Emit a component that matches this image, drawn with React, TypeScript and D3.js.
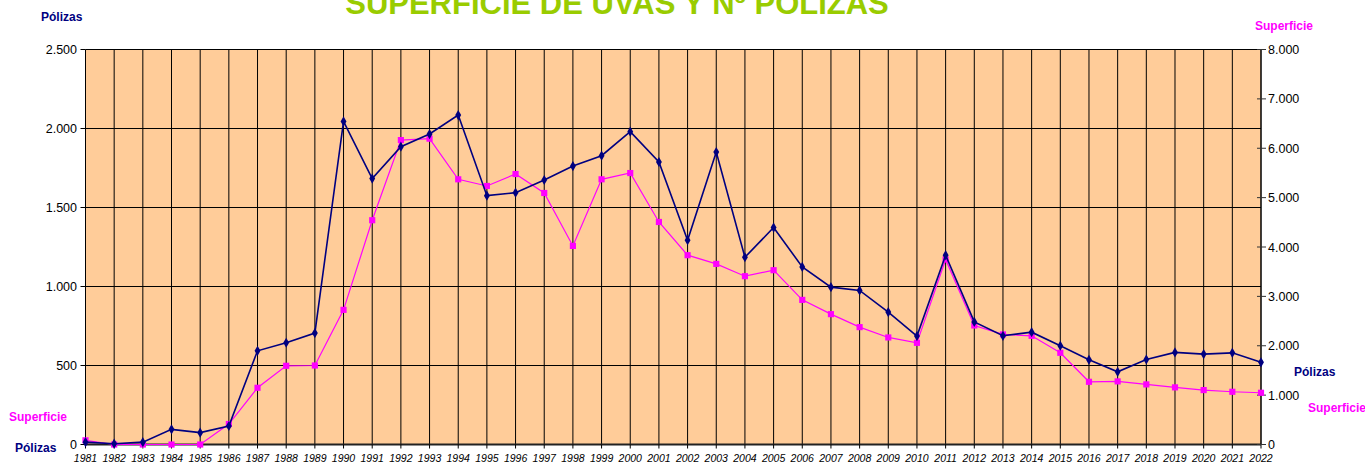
import React, { useEffect, useRef } from 'react';
import * as d3 from 'd3';

const years = d3.range(1981, 2023).map(String);

const polizas = [
  15, 5, 15, 96, 75, 117, 593, 644, 705, 2045,
  1683, 1885, 1965, 2085, 1575, 1594, 1674, 1762, 1828, 1980,
  1788, 1293, 1851, 1185, 1373, 1124, 996, 975, 838, 686,
  1198, 776, 688, 711, 625, 536, 460, 538, 583, 572,
  580, 520,
];

const superficie = [
  85, 0, 0, 0, 0, 415, 1149, 1594, 1600, 2727,
  4542, 6166, 6194, 5371, 5236, 5478, 5094, 4022, 5371, 5498,
  4507, 3834, 3658, 3409, 3530, 2929, 2640, 2377, 2168, 2059,
  3747, 2411, 2229, 2201, 1857, 1270, 1278, 1217, 1157, 1102,
  1068, 1048,
];

const leftTicks = [0, 500, 1000, 1500, 2000, 2500];
const rightTicks = [0, 1000, 2000, 3000, 4000, 5000, 6000, 7000, 8000];

const fmt = (v: number) => (v === 0 ? '0' : d3.format(',')(v).replace(/,/g, '.'));

const App = () => {
  const ref = useRef<SVGSVGElement | null>(null);

  useEffect(() => {
    if (!ref.current) return;
    const svg = d3.select(ref.current);
    svg.selectAll('*').remove();

    const left = 85.5;
    const right = 1261;
    const top = 49.5;
    const bottom = 444.5;
    const font = 'Arial, "Liberation Sans", sans-serif';

    const x = d3.scalePoint().domain(years).range([left, right]);
    const yL = d3.scaleLinear().domain([0, 2500]).range([bottom, top]);
    const yR = d3.scaleLinear().domain([0, 8000]).range([bottom, top]);

    // plot background
    svg.append('rect')
      .attr('x', left).attr('y', top)
      .attr('width', right - left).attr('height', bottom - top)
      .attr('fill', '#FFCC99');

    // grid
    svg.append('g').selectAll('line')
      .data(leftTicks)
      .enter().append('line')
      .attr('x1', left).attr('x2', right)
      .attr('y1', d => yL(d)).attr('y2', d => yL(d))
      .attr('stroke', '#000').attr('stroke-width', 1);

    svg.append('g').selectAll('line')
      .data(years)
      .enter().append('line')
      .attr('x1', d => x(d)!).attr('x2', d => x(d)!)
      .attr('y1', top).attr('y2', bottom)
      .attr('stroke', '#000').attr('stroke-width', 1);

    // bottom axis
    svg.append('line')
      .attr('x1', left).attr('x2', right)
      .attr('y1', bottom).attr('y2', bottom)
      .attr('stroke', '#222').attr('stroke-width', 2);
    svg.append('g').selectAll('line')
      .data(years)
      .enter().append('line')
      .attr('x1', d => x(d)!).attr('x2', d => x(d)!)
      .attr('y1', bottom).attr('y2', bottom + 4)
      .attr('stroke', '#000');
    svg.append('g').selectAll('text')
      .data(years)
      .enter().append('text')
      .attr('x', d => x(d)!).attr('y', 462)
      .attr('text-anchor', 'middle')
      .attr('font-family', font).attr('font-size', 10.5)
      .attr('font-style', 'italic')
      .text(d => d);

    // left axis
    svg.append('g').selectAll('line')
      .data(leftTicks)
      .enter().append('line')
      .attr('x1', left - 5).attr('x2', left)
      .attr('y1', d => yL(d)).attr('y2', d => yL(d))
      .attr('stroke', '#000');
    svg.append('g').selectAll('text')
      .data(leftTicks)
      .enter().append('text')
      .attr('x', 77).attr('y', d => yL(d) + 4.5)
      .attr('text-anchor', 'end')
      .attr('font-family', font).attr('font-size', 12.5)
      .text(d => fmt(d));

    // right axis
    svg.append('line')
      .attr('x1', right).attr('x2', right)
      .attr('y1', top).attr('y2', bottom)
      .attr('stroke', '#000');
    svg.append('g').selectAll('line')
      .data(rightTicks)
      .enter().append('line')
      .attr('x1', right - 4).attr('x2', right + 5)
      .attr('y1', d => yR(d)).attr('y2', d => yR(d))
      .attr('stroke', '#333');
    svg.append('g').selectAll('text')
      .data(rightTicks)
      .enter().append('text')
      .attr('x', 1268).attr('y', d => yR(d) + 4.5)
      .attr('font-family', font).attr('font-size', 12.5)
      .text(d => fmt(d));

    // series: superficie
    const lineR = d3.line<number>().x((_, i) => x(years[i])!).y(d => yR(d));
    svg.append('path')
      .datum(superficie)
      .attr('d', lineR)
      .attr('fill', 'none').attr('stroke', '#FF00FF').attr('stroke-width', 1.2);
    svg.append('g').selectAll('path')
      .data(superficie)
      .enter().append('path')
      .attr('d', d3.symbol().type(d3.symbolSquare).size(38)())
      .attr('transform', (d, i) => `translate(${x(years[i])}, ${yR(d)})`)
      .attr('fill', '#FF00FF');

    // series: polizas
    const lineL = d3.line<number>().x((_, i) => x(years[i])!).y(d => yL(d));
    svg.append('path')
      .datum(polizas)
      .attr('d', lineL)
      .attr('fill', 'none').attr('stroke', '#000080').attr('stroke-width', 1.6);
    svg.append('g').selectAll('path')
      .data(polizas)
      .enter().append('path')
      .attr('d', d3.symbol().type(d3.symbolDiamond).size(30)())
      .attr('transform', (d, i) => `translate(${x(years[i])}, ${yL(d)})`)
      .attr('fill', '#000080');

    // title
    svg.append('text')
      .attr('x', 617).attr('y', 14)
      .attr('text-anchor', 'middle')
      .attr('font-family', font).attr('font-size', 31).attr('font-weight', 'bold')
      .attr('fill', '#99CC00')
      .text('SUPERFICIE DE UVAS Y Nº PÓLIZAS');

    // axis / legend labels
    const labels = [
      { t: 'Pólizas', x: 41, y: 21, c: '#000080' },
      { t: 'Superficie', x: 1255, y: 30, c: '#FF00FF' },
      { t: 'Superficie', x: 9, y: 421, c: '#FF00FF' },
      { t: 'Pólizas', x: 15, y: 452, c: '#000080' },
      { t: 'Pólizas', x: 1294, y: 376, c: '#000080' },
      { t: 'Superficie', x: 1308, y: 412, c: '#FF00FF' },
    ];
    svg.append('g').selectAll('text')
      .data(labels)
      .enter().append('text')
      .attr('x', d => d.x).attr('y', d => d.y)
      .attr('font-family', font).attr('font-size', 12).attr('font-weight', 'bold')
      .attr('fill', d => d.c)
      .text(d => d.t);
  }, []);

  return (
    <svg
      ref={ref}
      width={1365}
      height={464}
      style={{ position: 'absolute', left: 0, top: 0, background: '#fff' }}
    />
  );
};

export default App;
